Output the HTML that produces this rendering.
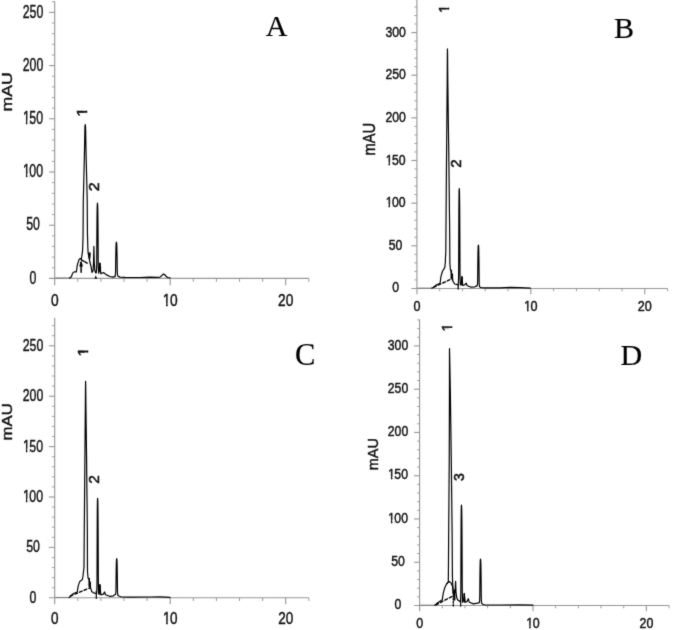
<!DOCTYPE html>
<html lang="en">
<head>
<meta charset="utf-8">
<title>Chromatograms A-D</title>
<style>
html,body{margin:0;padding:0;background:#fff;}
body{width:685px;height:630px;overflow:hidden;}
svg{display:block;}
</style>
</head>
<body>
<svg width="685" height="630" viewBox="0 0 685 630">
<rect width="685" height="630" fill="#fff"/>
<defs><filter id="soft" x="0" y="0" width="685" height="630" filterUnits="userSpaceOnUse" color-interpolation-filters="sRGB"><feConvolveMatrix order="3" kernelMatrix="1 4 1 4 30 4 1 4 1" edgeMode="duplicate" preserveAlpha="false"/></filter></defs>
<g filter="url(#soft)">
<g id="panelA">
<g>
<line x1="54.7" y1="1.3" x2="54.7" y2="285.2" stroke="#969696" stroke-width="1.12"/>
<line x1="49.1" y1="278.4" x2="308.8" y2="278.4" stroke="#969696" stroke-width="1.12"/>
<line x1="52.1" y1="267.76" x2="54.7" y2="267.76" stroke="#969696" stroke-width="0.95"/>
<line x1="52.1" y1="257.12" x2="54.7" y2="257.12" stroke="#969696" stroke-width="0.95"/>
<line x1="52.1" y1="246.48" x2="54.7" y2="246.48" stroke="#969696" stroke-width="0.95"/>
<line x1="52.1" y1="235.84" x2="54.7" y2="235.84" stroke="#969696" stroke-width="0.95"/>
<line x1="49.1" y1="225.2" x2="54.7" y2="225.2" stroke="#969696" stroke-width="1.12"/>
<line x1="52.1" y1="214.56" x2="54.7" y2="214.56" stroke="#969696" stroke-width="0.95"/>
<line x1="52.1" y1="203.92" x2="54.7" y2="203.92" stroke="#969696" stroke-width="0.95"/>
<line x1="52.1" y1="193.28" x2="54.7" y2="193.28" stroke="#969696" stroke-width="0.95"/>
<line x1="52.1" y1="182.64" x2="54.7" y2="182.64" stroke="#969696" stroke-width="0.95"/>
<line x1="49.1" y1="172" x2="54.7" y2="172" stroke="#969696" stroke-width="1.12"/>
<line x1="52.1" y1="161.36" x2="54.7" y2="161.36" stroke="#969696" stroke-width="0.95"/>
<line x1="52.1" y1="150.72" x2="54.7" y2="150.72" stroke="#969696" stroke-width="0.95"/>
<line x1="52.1" y1="140.08" x2="54.7" y2="140.08" stroke="#969696" stroke-width="0.95"/>
<line x1="52.1" y1="129.44" x2="54.7" y2="129.44" stroke="#969696" stroke-width="0.95"/>
<line x1="49.1" y1="118.8" x2="54.7" y2="118.8" stroke="#969696" stroke-width="1.12"/>
<line x1="52.1" y1="108.16" x2="54.7" y2="108.16" stroke="#969696" stroke-width="0.95"/>
<line x1="52.1" y1="97.52" x2="54.7" y2="97.52" stroke="#969696" stroke-width="0.95"/>
<line x1="52.1" y1="86.88" x2="54.7" y2="86.88" stroke="#969696" stroke-width="0.95"/>
<line x1="52.1" y1="76.24" x2="54.7" y2="76.24" stroke="#969696" stroke-width="0.95"/>
<line x1="49.1" y1="65.6" x2="54.7" y2="65.6" stroke="#969696" stroke-width="1.12"/>
<line x1="52.1" y1="54.96" x2="54.7" y2="54.96" stroke="#969696" stroke-width="0.95"/>
<line x1="52.1" y1="44.32" x2="54.7" y2="44.32" stroke="#969696" stroke-width="0.95"/>
<line x1="52.1" y1="33.68" x2="54.7" y2="33.68" stroke="#969696" stroke-width="0.95"/>
<line x1="52.1" y1="23.04" x2="54.7" y2="23.04" stroke="#969696" stroke-width="0.95"/>
<line x1="49.1" y1="12.4" x2="54.7" y2="12.4" stroke="#969696" stroke-width="1.12"/>
<line x1="52.1" y1="1.76" x2="54.7" y2="1.76" stroke="#969696" stroke-width="0.95"/>
<line x1="77.8" y1="278.4" x2="77.8" y2="281.8" stroke="#969696" stroke-width="0.95"/>
<line x1="100.9" y1="278.4" x2="100.9" y2="281.8" stroke="#969696" stroke-width="0.95"/>
<line x1="124" y1="278.4" x2="124" y2="281.8" stroke="#969696" stroke-width="0.95"/>
<line x1="147.1" y1="278.4" x2="147.1" y2="281.8" stroke="#969696" stroke-width="0.95"/>
<line x1="170.2" y1="278.4" x2="170.2" y2="285.2" stroke="#969696" stroke-width="1.12"/>
<line x1="193.3" y1="278.4" x2="193.3" y2="281.8" stroke="#969696" stroke-width="0.95"/>
<line x1="216.4" y1="278.4" x2="216.4" y2="281.8" stroke="#969696" stroke-width="0.95"/>
<line x1="239.5" y1="278.4" x2="239.5" y2="281.8" stroke="#969696" stroke-width="0.95"/>
<line x1="262.6" y1="278.4" x2="262.6" y2="281.8" stroke="#969696" stroke-width="0.95"/>
<line x1="285.7" y1="278.4" x2="285.7" y2="285.2" stroke="#969696" stroke-width="1.12"/>
<line x1="308.8" y1="278.4" x2="308.8" y2="281.8" stroke="#969696" stroke-width="0.95"/>
</g>
<g>
<text transform="translate(33 283.5) scale(0.700 1.000)" font-family='"Liberation Sans", Arial, sans-serif' font-size="17.6" text-anchor="middle" fill="#111" font-weight="normal" stroke="#111" stroke-width="0.45">0</text>
<text transform="translate(33 230.3) scale(0.700 1.000)" font-family='"Liberation Sans", Arial, sans-serif' font-size="17.6" text-anchor="middle" fill="#111" font-weight="normal" stroke="#111" stroke-width="0.45">50</text>
<clipPath id="k1"><path clip-rule="evenodd" d="M-20.33 -17.6 h40.66 v24.64 h-40.66 z M-15.33 -3.11 H-10.13 V5.28 H-15.33 z M-8.13 -3.11 H-4.86 V5.28 H-8.13 z"/></clipPath>
<text transform="translate(33 177.1) scale(0.700 1.000)" font-family='"Liberation Sans", Arial, sans-serif' font-size="17.6" text-anchor="middle" fill="#111" font-weight="normal" stroke="#111" stroke-width="0.45" clip-path="url(#k1)" dx="0 -0.7">100</text>
<clipPath id="k2"><path clip-rule="evenodd" d="M-20.33 -17.6 h40.66 v24.64 h-40.66 z M-15.33 -3.11 H-10.13 V5.28 H-15.33 z M-8.13 -3.11 H-4.86 V5.28 H-8.13 z"/></clipPath>
<text transform="translate(33 123.9) scale(0.700 1.000)" font-family='"Liberation Sans", Arial, sans-serif' font-size="17.6" text-anchor="middle" fill="#111" font-weight="normal" stroke="#111" stroke-width="0.45" clip-path="url(#k2)" dx="0 -0.7">150</text>
<text transform="translate(33 70.7) scale(0.700 1.000)" font-family='"Liberation Sans", Arial, sans-serif' font-size="17.6" text-anchor="middle" fill="#111" font-weight="normal" stroke="#111" stroke-width="0.45">200</text>
<text transform="translate(33 17.5) scale(0.700 1.000)" font-family='"Liberation Sans", Arial, sans-serif' font-size="17.6" text-anchor="middle" fill="#111" font-weight="normal" stroke="#111" stroke-width="0.45">250</text>
</g>
<g>
<text transform="translate(54.7 306) scale(0.800 1.000)" font-family='"Liberation Sans", Arial, sans-serif' font-size="17.2" text-anchor="middle" fill="#111" font-weight="normal" stroke="#111" stroke-width="0.45">0</text>
<clipPath id="k3"><path clip-rule="evenodd" d="M-15.22 -17.2 h30.45 v24.08 h-30.45 z M-10.22 -3.08 H-5.12 V5.16 H-10.22 z M-3.16 -3.08 H0.03 V5.16 H-3.16 z"/></clipPath>
<text transform="translate(170.2 306) scale(0.800 1.000)" font-family='"Liberation Sans", Arial, sans-serif' font-size="17.2" text-anchor="middle" fill="#111" font-weight="normal" stroke="#111" stroke-width="0.45" clip-path="url(#k3)" dx="0 -0.69">10</text>
<text transform="translate(285.7 306) scale(0.800 1.000)" font-family='"Liberation Sans", Arial, sans-serif' font-size="17.2" text-anchor="middle" fill="#111" font-weight="normal" stroke="#111" stroke-width="0.45">20</text>
</g>
<text transform="translate(12.3 91.9) rotate(-90) scale(1.000 0.870)" font-family='"Liberation Sans", Arial, sans-serif' font-size="17.7" text-anchor="middle" fill="#111" font-weight="normal" stroke="#111" stroke-width="0.45">mAU</text>
<path d="M55.6 277.9 L70 277.9" fill="none" stroke="#555" stroke-width="0.6" stroke-linejoin="round" stroke-linecap="round"/>
<path d="M69.6 278 L70.4 277.6 L71.5 276.5 L72.6 273.1 L74.1 271.9 L76.4 271.9 L77.2 265.5 L79.1 259.4 L80.2 258.5 L81.2 259.3 L81.75 256.5 L82.08 254.3 L82.42 252.1 L82.59 249.9 L82.67 247.7 L82.74 245.5 L82.82 243.3 L82.89 241.1 L82.96 238.9 L83.04 236.7 L83.06 234.5 L83.08 232.3 L83.09 230.1 L83.11 227.9 L83.13 225.7 L83.14 223.5 L83.16 221.3 L83.17 219.1 L83.19 216.9 L83.2 214.7 L83.22 212.5 L83.23 210.3 L83.25 208.1 L83.27 205.9 L83.28 203.7 L83.3 201.5 L83.34 199.3 L83.39 197.1 L83.45 194.9 L83.5 192.7 L83.55 190.5 L83.61 188.3 L83.66 186.1 L83.71 183.9 L83.76 181.7 L83.82 179.5 L83.87 177.3 L83.93 175.1 L83.98 172.9 L84.04 170.7 L84.09 168.5 L84.15 166.3 L84.21 164.1 L84.26 161.9 L84.31 159.7 L84.36 157.5 L84.41 155.3 L84.45 153.1 L84.5 150.9 L84.54 148.7 L84.59 146.5 L84.64 144.3 L84.68 142.1 L84.71 139.9 L84.75 137.7 L84.78 135.5 L84.82 133.3 L84.85 131.1 L84.91 128.9 L84.97 126.7 L85.25 124.5 L85.25 124.5 L85.53 126.65 L85.59 128.8 L85.65 130.95 L85.68 133.1 L85.72 135.25 L85.75 137.4 L85.79 139.55 L85.82 141.7 L85.86 143.85 L85.91 146 L85.96 148.15 L86 150.3 L86.05 152.45 L86.09 154.6 L86.14 156.75 L86.19 158.9 L86.24 161.05 L86.29 163.2 L86.35 165.35 L86.41 167.5 L86.46 169.65 L86.52 171.8 L86.57 173.95 L86.63 176.1 L86.68 178.25 L86.74 180.4 L86.79 182.55 L86.84 184.7 L86.89 186.85 L86.95 189 L87 191.15 L87.05 193.3 L87.11 195.45 L87.16 197.6 L87.2 199.75 L87.22 201.9 L87.23 204.05 L87.25 206.2 L87.27 208.35 L87.28 210.5 L87.3 212.65 L87.31 214.8 L87.33 216.95 L87.34 219.1 L87.36 221.25 L87.37 223.4 L87.39 225.55 L87.41 227.7 L87.42 229.85 L87.44 232 L87.46 234.15 L87.52 236.3 L87.58 238.45 L87.64 240.6 L87.7 242.75 L87.76 244.9 L87.81 247.05 L87.91 249.2 L88.05 251.35 L88.2 253.5 L89 257.1 L89.8 261.5 L91 266.5 L92 272.3 L93 271 L93.55 262 L93.9 246.4 L94.25 262 L94.8 270.5 L95.8 273 L96.2 273 L96.4 271.25 L96.53 269.51 L96.61 267.76 L96.66 266.02 L96.7 264.27 L96.72 262.53 L96.74 260.79 L96.75 259.04 L96.76 257.3 L96.77 255.55 L96.78 253.81 L96.79 252.06 L96.8 250.31 L96.81 248.57 L96.82 246.82 L96.83 245.08 L96.84 243.34 L96.85 241.59 L96.86 239.84 L96.87 238.1 L96.88 236.35 L96.9 234.61 L96.91 232.87 L96.92 231.12 L96.93 229.38 L96.95 227.63 L96.96 225.88 L96.98 224.14 L96.99 222.39 L97.01 220.65 L97.02 218.9 L97.04 217.16 L97.06 215.41 L97.09 213.67 L97.11 211.92 L97.14 210.18 L97.17 208.44 L97.21 206.69 L97.27 204.94 L97.45 203.2 L97.45 203.2 L97.65 204.95 L97.71 206.7 L97.75 208.45 L97.78 210.2 L97.81 211.95 L97.84 213.7 L97.86 215.45 L97.88 217.2 L97.9 218.95 L97.92 220.7 L97.94 222.45 L97.96 224.2 L97.97 225.95 L97.99 227.7 L98 229.45 L98.01 231.2 L98.03 232.95 L98.04 234.7 L98.05 236.45 L98.06 238.2 L98.08 239.95 L98.09 241.7 L98.1 243.45 L98.11 245.2 L98.12 246.95 L98.13 248.7 L98.14 250.45 L98.15 252.2 L98.16 253.95 L98.17 255.7 L98.18 257.45 L98.19 259.2 L98.21 260.95 L98.23 262.7 L98.25 264.45 L98.29 266.2 L98.34 267.95 L98.42 269.7 L98.55 271.45 L98.75 273.2 L99.3 270 L100 263.2 L100.8 273.8 L102 273 L103.8 272.7 L106.1 274.6 L109.9 276.5 L113 277.1 L114.6 276.6 L115.05 276.6 L115.26 275.74 L115.38 274.88 L115.46 274.01 L115.52 273.15 L115.55 272.29 L115.58 271.43 L115.59 270.56 L115.61 269.7 L115.62 268.84 L115.63 267.98 L115.65 267.11 L115.66 266.25 L115.67 265.39 L115.68 264.53 L115.69 263.66 L115.7 262.8 L115.71 261.94 L115.72 261.07 L115.73 260.21 L115.75 259.35 L115.76 258.49 L115.77 257.62 L115.79 256.76 L115.8 255.9 L115.81 255.04 L115.83 254.18 L115.85 253.31 L115.86 252.45 L115.88 251.59 L115.9 250.72 L115.92 249.86 L115.94 249 L115.96 248.14 L115.99 247.28 L116.01 246.41 L116.05 245.55 L116.08 244.69 L116.13 243.82 L116.19 242.96 L116.4 242.1 L116.4 242.1 L116.62 242.95 L116.69 243.79 L116.74 244.64 L116.78 245.49 L116.81 246.34 L116.84 247.19 L116.86 248.03 L116.89 248.88 L116.91 249.73 L116.93 250.57 L116.95 251.42 L116.97 252.27 L116.99 253.12 L117 253.97 L117.02 254.81 L117.04 255.66 L117.05 256.51 L117.06 257.36 L117.08 258.2 L117.09 259.05 L117.1 259.9 L117.12 260.75 L117.13 261.59 L117.14 262.44 L117.15 263.29 L117.16 264.13 L117.18 264.98 L117.19 265.83 L117.2 266.68 L117.21 267.52 L117.22 268.37 L117.24 269.22 L117.25 270.07 L117.27 270.92 L117.3 271.76 L117.33 272.61 L117.39 273.46 L117.47 274.31 L117.59 275.15 L117.8 276 L120 277.1 L125 277.4 L140 277.5 L150 277.2 L157 277.4 L160 277.1 L161.6 275.8 L162.8 274.4 L163.6 273.9 L164.5 274.5 L165.8 276 L167.5 277.5 L170 277.9" fill="none" stroke="#000" stroke-width="1.2" stroke-linejoin="round" stroke-linecap="round"/>
<path d="M81.4 259.8 L87.8 263.6" fill="none" stroke="#000" stroke-width="1.5" stroke-linejoin="round" stroke-linecap="round" stroke-dasharray="2.6 1.5"/>
<path d="M81.1 262.5 L81.1 272.3" fill="none" stroke="#000" stroke-width="1.5" stroke-linejoin="round" stroke-linecap="round"/>
<polygon points="81.1,260.2 79.2,266.6 83,266.6" fill="#000"/>
<polygon points="88.2,252.6 90.8,252.6 90.4,258 89.5,262 88.6,258" fill="#000"/>
<path d="M99.7 263.5 L99.7 270" fill="none" stroke="#000" stroke-width="1.6" stroke-linejoin="round" stroke-linecap="round"/>
<polygon points="99.7,272.4 98,267 101.4,267" fill="#000"/>
<polygon points="95.8,275.2 94.5,278.8 97.1,278.8" fill="#000"/>
<clipPath id="k4"><path clip-rule="evenodd" d="M-6 -14.5 h20.06 v20.3 h-20.06 z M-1 -2.88 H3.43 V4.35 H-1 z M5.15 -2.88 H8.41 V4.35 H5.15 z"/></clipPath>
<text transform="translate(86.8 116.7) rotate(-90) scale(1.150 1.000)" font-family='"Liberation Sans", Arial, sans-serif' font-size="14.5" text-anchor="start" fill="#111" font-weight="normal" stroke="#111" stroke-width="0.55" clip-path="url(#k4)">1</text>
<text transform="translate(98.9 191.2) rotate(-90) scale(1.100 1.000)" font-family='"Liberation Sans", Arial, sans-serif' font-size="14.5" text-anchor="start" fill="#111" font-weight="normal" stroke="#111" stroke-width="0.55">2</text>
<text transform="translate(276.6 35.9)" font-family='"Liberation Serif", "Times New Roman", serif' font-size="30" text-anchor="middle" fill="#000" font-weight="normal" stroke="#000" stroke-width="0.2">A</text>
</g>
<g id="panelB">
<g>
<line x1="416.9" y1="0" x2="416.9" y2="294.25" stroke="#969696" stroke-width="1.12"/>
<line x1="411.3" y1="288.45" x2="667.59" y2="288.45" stroke="#969696" stroke-width="1.12"/>
<line x1="414.5" y1="279.92" x2="416.9" y2="279.92" stroke="#969696" stroke-width="0.95"/>
<line x1="414.5" y1="271.39" x2="416.9" y2="271.39" stroke="#969696" stroke-width="0.95"/>
<line x1="414.5" y1="262.86" x2="416.9" y2="262.86" stroke="#969696" stroke-width="0.95"/>
<line x1="414.5" y1="254.33" x2="416.9" y2="254.33" stroke="#969696" stroke-width="0.95"/>
<line x1="411.3" y1="245.8" x2="416.9" y2="245.8" stroke="#969696" stroke-width="1.12"/>
<line x1="414.5" y1="237.27" x2="416.9" y2="237.27" stroke="#969696" stroke-width="0.95"/>
<line x1="414.5" y1="228.74" x2="416.9" y2="228.74" stroke="#969696" stroke-width="0.95"/>
<line x1="414.5" y1="220.21" x2="416.9" y2="220.21" stroke="#969696" stroke-width="0.95"/>
<line x1="414.5" y1="211.68" x2="416.9" y2="211.68" stroke="#969696" stroke-width="0.95"/>
<line x1="411.3" y1="203.15" x2="416.9" y2="203.15" stroke="#969696" stroke-width="1.12"/>
<line x1="414.5" y1="194.62" x2="416.9" y2="194.62" stroke="#969696" stroke-width="0.95"/>
<line x1="414.5" y1="186.09" x2="416.9" y2="186.09" stroke="#969696" stroke-width="0.95"/>
<line x1="414.5" y1="177.56" x2="416.9" y2="177.56" stroke="#969696" stroke-width="0.95"/>
<line x1="414.5" y1="169.03" x2="416.9" y2="169.03" stroke="#969696" stroke-width="0.95"/>
<line x1="411.3" y1="160.5" x2="416.9" y2="160.5" stroke="#969696" stroke-width="1.12"/>
<line x1="414.5" y1="151.97" x2="416.9" y2="151.97" stroke="#969696" stroke-width="0.95"/>
<line x1="414.5" y1="143.44" x2="416.9" y2="143.44" stroke="#969696" stroke-width="0.95"/>
<line x1="414.5" y1="134.91" x2="416.9" y2="134.91" stroke="#969696" stroke-width="0.95"/>
<line x1="414.5" y1="126.38" x2="416.9" y2="126.38" stroke="#969696" stroke-width="0.95"/>
<line x1="411.3" y1="117.85" x2="416.9" y2="117.85" stroke="#969696" stroke-width="1.12"/>
<line x1="414.5" y1="109.32" x2="416.9" y2="109.32" stroke="#969696" stroke-width="0.95"/>
<line x1="414.5" y1="100.79" x2="416.9" y2="100.79" stroke="#969696" stroke-width="0.95"/>
<line x1="414.5" y1="92.26" x2="416.9" y2="92.26" stroke="#969696" stroke-width="0.95"/>
<line x1="414.5" y1="83.73" x2="416.9" y2="83.73" stroke="#969696" stroke-width="0.95"/>
<line x1="411.3" y1="75.2" x2="416.9" y2="75.2" stroke="#969696" stroke-width="1.12"/>
<line x1="414.5" y1="66.67" x2="416.9" y2="66.67" stroke="#969696" stroke-width="0.95"/>
<line x1="414.5" y1="58.14" x2="416.9" y2="58.14" stroke="#969696" stroke-width="0.95"/>
<line x1="414.5" y1="49.61" x2="416.9" y2="49.61" stroke="#969696" stroke-width="0.95"/>
<line x1="414.5" y1="41.08" x2="416.9" y2="41.08" stroke="#969696" stroke-width="0.95"/>
<line x1="411.3" y1="32.55" x2="416.9" y2="32.55" stroke="#969696" stroke-width="1.12"/>
<line x1="414.5" y1="24.02" x2="416.9" y2="24.02" stroke="#969696" stroke-width="0.95"/>
<line x1="414.5" y1="15.49" x2="416.9" y2="15.49" stroke="#969696" stroke-width="0.95"/>
<line x1="414.5" y1="6.96" x2="416.9" y2="6.96" stroke="#969696" stroke-width="0.95"/>
<line x1="439.69" y1="288.45" x2="439.69" y2="291.25" stroke="#969696" stroke-width="0.95"/>
<line x1="462.48" y1="288.45" x2="462.48" y2="291.25" stroke="#969696" stroke-width="0.95"/>
<line x1="485.27" y1="288.45" x2="485.27" y2="291.25" stroke="#969696" stroke-width="0.95"/>
<line x1="508.06" y1="288.45" x2="508.06" y2="291.25" stroke="#969696" stroke-width="0.95"/>
<line x1="530.85" y1="288.45" x2="530.85" y2="294.25" stroke="#969696" stroke-width="1.12"/>
<line x1="553.64" y1="288.45" x2="553.64" y2="291.25" stroke="#969696" stroke-width="0.95"/>
<line x1="576.43" y1="288.45" x2="576.43" y2="291.25" stroke="#969696" stroke-width="0.95"/>
<line x1="599.22" y1="288.45" x2="599.22" y2="291.25" stroke="#969696" stroke-width="0.95"/>
<line x1="622.01" y1="288.45" x2="622.01" y2="291.25" stroke="#969696" stroke-width="0.95"/>
<line x1="644.8" y1="288.45" x2="644.8" y2="294.25" stroke="#969696" stroke-width="1.12"/>
<line x1="667.59" y1="288.45" x2="667.59" y2="291.25" stroke="#969696" stroke-width="0.95"/>
</g>
<g>
<text transform="translate(395.6 292.45) scale(0.875 1.000)" font-family='"Liberation Sans", Arial, sans-serif' font-size="14" text-anchor="middle" fill="#111" font-weight="normal" stroke="#111" stroke-width="0.45">0</text>
<text transform="translate(395.6 249.8) scale(0.875 1.000)" font-family='"Liberation Sans", Arial, sans-serif' font-size="14" text-anchor="middle" fill="#111" font-weight="normal" stroke="#111" stroke-width="0.45">50</text>
<clipPath id="k5"><path clip-rule="evenodd" d="M-17.4 -14 h34.8 v19.6 h-34.8 z M-12.4 -2.85 H-8.1 V4.2 H-12.4 z M-6.42 -2.85 H-3.87 V4.2 H-6.42 z"/></clipPath>
<text transform="translate(395.6 207.15) scale(0.875 1.000)" font-family='"Liberation Sans", Arial, sans-serif' font-size="14" text-anchor="middle" fill="#111" font-weight="normal" stroke="#111" stroke-width="0.45" clip-path="url(#k5)" dx="0 -0.56">100</text>
<clipPath id="k6"><path clip-rule="evenodd" d="M-17.4 -14 h34.8 v19.6 h-34.8 z M-12.4 -2.85 H-8.1 V4.2 H-12.4 z M-6.42 -2.85 H-3.87 V4.2 H-6.42 z"/></clipPath>
<text transform="translate(395.6 164.5) scale(0.875 1.000)" font-family='"Liberation Sans", Arial, sans-serif' font-size="14" text-anchor="middle" fill="#111" font-weight="normal" stroke="#111" stroke-width="0.45" clip-path="url(#k6)" dx="0 -0.56">150</text>
<text transform="translate(395.6 121.85) scale(0.875 1.000)" font-family='"Liberation Sans", Arial, sans-serif' font-size="14" text-anchor="middle" fill="#111" font-weight="normal" stroke="#111" stroke-width="0.45">200</text>
<text transform="translate(395.6 79.2) scale(0.875 1.000)" font-family='"Liberation Sans", Arial, sans-serif' font-size="14" text-anchor="middle" fill="#111" font-weight="normal" stroke="#111" stroke-width="0.45">250</text>
<text transform="translate(395.6 36.55) scale(0.875 1.000)" font-family='"Liberation Sans", Arial, sans-serif' font-size="14" text-anchor="middle" fill="#111" font-weight="normal" stroke="#111" stroke-width="0.45">300</text>
</g>
<g>
<text transform="translate(416.9 311) scale(0.900 1.000)" font-family='"Liberation Sans", Arial, sans-serif' font-size="14" text-anchor="middle" fill="#111" font-weight="normal" stroke="#111" stroke-width="0.45">0</text>
<clipPath id="k7"><path clip-rule="evenodd" d="M-13.51 -14 h27.01 v19.6 h-27.01 z M-8.51 -2.85 H-4.21 V4.2 H-8.51 z M-2.53 -2.85 H0.03 V4.2 H-2.53 z"/></clipPath>
<text transform="translate(530.85 311) scale(0.900 1.000)" font-family='"Liberation Sans", Arial, sans-serif' font-size="14" text-anchor="middle" fill="#111" font-weight="normal" stroke="#111" stroke-width="0.45" clip-path="url(#k7)" dx="0 -0.56">10</text>
<text transform="translate(644.8 311) scale(0.900 1.000)" font-family='"Liberation Sans", Arial, sans-serif' font-size="14" text-anchor="middle" fill="#111" font-weight="normal" stroke="#111" stroke-width="0.45">20</text>
</g>
<text transform="translate(375 139.2) rotate(-90) scale(1.000 1.140)" font-family='"Liberation Sans", Arial, sans-serif' font-size="14.7" text-anchor="middle" fill="#111" font-weight="normal" stroke="#111" stroke-width="0.45">mAU</text>
<path d="M417.8 288 L432.4 288" fill="none" stroke="#555" stroke-width="0.6" stroke-linejoin="round" stroke-linecap="round"/>
<path d="M431.8 288.1 L432.7 287.8 L433.7 287.2 L436.6 284.7 L440.1 283.2 L440.9 276.7 L442.4 271.5 L444.8 267.4 L445.4 262 L445.4 259 L445.62 255.5 L445.81 252 L445.83 248.5 L445.86 244.99 L445.88 241.49 L445.91 237.99 L445.93 234.49 L445.96 230.99 L445.98 227.49 L446.01 223.98 L446.04 220.48 L446.07 216.98 L446.09 213.48 L446.12 209.98 L446.15 206.47 L446.17 202.97 L446.2 199.47 L446.23 195.97 L446.25 192.47 L446.28 188.97 L446.31 185.47 L446.34 181.96 L446.36 178.46 L446.39 174.96 L446.42 171.46 L446.44 167.96 L446.47 164.45 L446.5 160.95 L446.53 157.45 L446.56 153.95 L446.59 150.45 L446.62 146.95 L446.65 143.44 L446.68 139.94 L446.71 136.44 L446.75 132.94 L446.78 129.44 L446.81 125.94 L446.84 122.44 L446.87 118.93 L446.9 115.43 L446.93 111.93 L446.97 108.43 L447 104.93 L447.03 101.43 L447.06 97.92 L447.09 94.42 L447.12 90.92 L447.16 87.42 L447.19 83.92 L447.22 80.42 L447.24 76.91 L447.26 73.41 L447.28 69.91 L447.29 66.41 L447.31 62.91 L447.33 59.41 L447.35 55.9 L447.39 52.4 L447.45 48.9 L447.45 48.9 L447.52 52.58 L447.58 56.26 L447.61 59.94 L447.64 63.62 L447.67 67.3 L447.7 70.98 L447.73 74.66 L447.76 78.34 L447.8 82.02 L447.85 85.7 L447.9 89.38 L447.95 93.06 L448 96.74 L448.05 100.42 L448.1 104.1 L448.14 107.78 L448.19 111.46 L448.24 115.14 L448.29 118.82 L448.34 122.5 L448.39 126.18 L448.44 129.86 L448.49 133.54 L448.54 137.22 L448.59 140.9 L448.64 144.58 L448.69 148.26 L448.74 151.94 L448.79 155.62 L448.84 159.3 L448.89 162.98 L448.93 166.66 L448.97 170.34 L449.01 174.02 L449.05 177.7 L449.1 181.38 L449.14 185.06 L449.18 188.74 L449.22 192.42 L449.26 196.1 L449.31 199.78 L449.35 203.46 L449.39 207.14 L449.43 210.82 L449.47 214.5 L449.52 218.18 L449.56 221.86 L449.6 225.54 L449.64 229.22 L449.68 232.9 L449.71 236.58 L449.73 240.26 L449.75 243.94 L449.77 247.62 L449.79 251.3 L449.81 254.98 L449.83 258.66 L449.85 262.34 L450.09 266.02 L450.4 269.7 L451.2 270.9 L452.1 276.7 L453 281.4 L454.7 284 L457.6 284.7 L458.25 285 L458.41 282.59 L458.51 280.18 L458.58 277.77 L458.62 275.36 L458.65 272.95 L458.67 270.54 L458.68 268.13 L458.69 265.72 L458.7 263.31 L458.71 260.9 L458.72 258.49 L458.73 256.08 L458.73 253.67 L458.74 251.26 L458.75 248.85 L458.76 246.44 L458.76 244.03 L458.77 241.62 L458.78 239.21 L458.79 236.8 L458.8 234.39 L458.81 231.98 L458.82 229.57 L458.83 227.16 L458.84 224.75 L458.85 222.34 L458.86 219.93 L458.87 217.52 L458.88 215.11 L458.9 212.7 L458.91 210.29 L458.92 207.88 L458.94 205.47 L458.96 203.06 L458.98 200.65 L459 198.24 L459.03 195.83 L459.06 193.42 L459.1 191.01 L459.25 188.6 L459.25 188.6 L459.43 191.01 L459.49 193.42 L459.53 195.83 L459.56 198.24 L459.59 200.65 L459.61 203.06 L459.64 205.47 L459.66 207.88 L459.68 210.29 L459.69 212.7 L459.71 215.11 L459.72 217.52 L459.74 219.93 L459.75 222.34 L459.77 224.75 L459.78 227.16 L459.79 229.57 L459.8 231.98 L459.82 234.39 L459.83 236.8 L459.84 239.21 L459.85 241.62 L459.86 244.03 L459.87 246.44 L459.88 248.85 L459.89 251.26 L459.9 253.67 L459.91 256.08 L459.92 258.49 L459.93 260.9 L459.94 263.31 L459.95 265.72 L459.96 268.13 L459.97 270.54 L460 272.95 L460.02 275.36 L460.07 277.77 L460.13 280.18 L460.24 282.59 L460.4 285 L461.3 283 L462 276.7 L462.7 285.5 L464.6 284.9 L466.2 283.2 L467 285.5 L471.1 287.2 L474.6 287 L476.3 286.1 L477.25 285.6 L477.41 284.59 L477.52 283.57 L477.58 282.56 L477.63 281.54 L477.65 280.53 L477.68 279.51 L477.69 278.5 L477.7 277.48 L477.71 276.47 L477.72 275.45 L477.73 274.44 L477.74 273.42 L477.75 272.41 L477.76 271.39 L477.77 270.38 L477.78 269.36 L477.79 268.35 L477.8 267.33 L477.81 266.31 L477.82 265.3 L477.83 264.29 L477.85 263.27 L477.86 262.25 L477.87 261.24 L477.88 260.23 L477.9 259.21 L477.91 258.19 L477.93 257.18 L477.94 256.17 L477.96 255.15 L477.97 254.13 L477.99 253.12 L478.01 252.11 L478.04 251.09 L478.06 250.07 L478.09 249.06 L478.12 248.05 L478.16 247.03 L478.22 246.01 L478.4 245 L478.4 245 L478.6 246.05 L478.66 247.1 L478.7 248.15 L478.73 249.2 L478.76 250.25 L478.79 251.3 L478.81 252.35 L478.83 253.4 L478.85 254.45 L478.87 255.5 L478.89 256.55 L478.91 257.6 L478.92 258.65 L478.94 259.7 L478.95 260.75 L478.96 261.8 L478.98 262.85 L478.99 263.9 L479 264.95 L479.01 266 L479.03 267.05 L479.04 268.1 L479.05 269.15 L479.06 270.2 L479.07 271.25 L479.08 272.3 L479.09 273.35 L479.1 274.4 L479.11 275.45 L479.12 276.5 L479.13 277.55 L479.14 278.6 L479.16 279.65 L479.17 280.7 L479.19 281.75 L479.22 282.8 L479.27 283.85 L479.33 284.9 L479.43 285.95 L479.6 287 L481.5 287.6 L485.1 287.9 L500 287.9 L510 287.4 L520 287.7 L530.4 288.1" fill="none" stroke="#000" stroke-width="1.2" stroke-linejoin="round" stroke-linecap="round"/>
<path d="M433.7 287.2 L452.4 278.5" fill="none" stroke="#000" stroke-width="1.45" stroke-linejoin="round" stroke-linecap="round" stroke-dasharray="2.8 2.2"/>
<path d="M451.3 270.5 L451.3 278.5" fill="none" stroke="#000" stroke-width="1.5" stroke-linejoin="round" stroke-linecap="round"/>
<path d="M452.5 274 L452.5 280" fill="none" stroke="#000" stroke-width="1.2" stroke-linejoin="round" stroke-linecap="round"/>
<path d="M462 277 L462 285" fill="none" stroke="#000" stroke-width="1.5" stroke-linejoin="round" stroke-linecap="round"/>
<path d="M458.2 284.5 L458.2 289" fill="none" stroke="#000" stroke-width="1.3" stroke-linejoin="round" stroke-linecap="round"/>
<clipPath id="k8"><path clip-rule="evenodd" d="M-6 -14 h19.79 v19.6 h-19.79 z M-1 -2.85 H3.3 V4.2 H-1 z M4.98 -2.85 H8.12 V4.2 H4.98 z"/></clipPath>
<text transform="translate(449 12.8) rotate(-90)" font-family='"Liberation Sans", Arial, sans-serif' font-size="14" text-anchor="start" fill="#111" font-weight="normal" stroke="#111" stroke-width="0.55" clip-path="url(#k8)">1</text>
<text transform="translate(461.2 167.7) rotate(-90) scale(1.070 1.000)" font-family='"Liberation Sans", Arial, sans-serif' font-size="14" text-anchor="start" fill="#111" font-weight="normal" stroke="#111" stroke-width="0.55">2</text>
<text transform="translate(624 38)" font-family='"Liberation Serif", "Times New Roman", serif' font-size="30" text-anchor="middle" fill="#000" font-weight="normal" stroke="#000" stroke-width="0.2">B</text>
</g>
<g id="panelC">
<g>
<line x1="54.7" y1="317.8" x2="54.7" y2="604.2" stroke="#969696" stroke-width="1.12"/>
<line x1="48.9" y1="597.8" x2="308.8" y2="597.8" stroke="#969696" stroke-width="1.12"/>
<line x1="52.1" y1="587.72" x2="54.7" y2="587.72" stroke="#969696" stroke-width="0.95"/>
<line x1="52.1" y1="577.64" x2="54.7" y2="577.64" stroke="#969696" stroke-width="0.95"/>
<line x1="52.1" y1="567.56" x2="54.7" y2="567.56" stroke="#969696" stroke-width="0.95"/>
<line x1="52.1" y1="557.48" x2="54.7" y2="557.48" stroke="#969696" stroke-width="0.95"/>
<line x1="48.9" y1="547.4" x2="54.7" y2="547.4" stroke="#969696" stroke-width="1.12"/>
<line x1="52.1" y1="537.32" x2="54.7" y2="537.32" stroke="#969696" stroke-width="0.95"/>
<line x1="52.1" y1="527.24" x2="54.7" y2="527.24" stroke="#969696" stroke-width="0.95"/>
<line x1="52.1" y1="517.16" x2="54.7" y2="517.16" stroke="#969696" stroke-width="0.95"/>
<line x1="52.1" y1="507.08" x2="54.7" y2="507.08" stroke="#969696" stroke-width="0.95"/>
<line x1="48.9" y1="497" x2="54.7" y2="497" stroke="#969696" stroke-width="1.12"/>
<line x1="52.1" y1="486.92" x2="54.7" y2="486.92" stroke="#969696" stroke-width="0.95"/>
<line x1="52.1" y1="476.84" x2="54.7" y2="476.84" stroke="#969696" stroke-width="0.95"/>
<line x1="52.1" y1="466.76" x2="54.7" y2="466.76" stroke="#969696" stroke-width="0.95"/>
<line x1="52.1" y1="456.68" x2="54.7" y2="456.68" stroke="#969696" stroke-width="0.95"/>
<line x1="48.9" y1="446.6" x2="54.7" y2="446.6" stroke="#969696" stroke-width="1.12"/>
<line x1="52.1" y1="436.52" x2="54.7" y2="436.52" stroke="#969696" stroke-width="0.95"/>
<line x1="52.1" y1="426.44" x2="54.7" y2="426.44" stroke="#969696" stroke-width="0.95"/>
<line x1="52.1" y1="416.36" x2="54.7" y2="416.36" stroke="#969696" stroke-width="0.95"/>
<line x1="52.1" y1="406.28" x2="54.7" y2="406.28" stroke="#969696" stroke-width="0.95"/>
<line x1="48.9" y1="396.2" x2="54.7" y2="396.2" stroke="#969696" stroke-width="1.12"/>
<line x1="52.1" y1="386.12" x2="54.7" y2="386.12" stroke="#969696" stroke-width="0.95"/>
<line x1="52.1" y1="376.04" x2="54.7" y2="376.04" stroke="#969696" stroke-width="0.95"/>
<line x1="52.1" y1="365.96" x2="54.7" y2="365.96" stroke="#969696" stroke-width="0.95"/>
<line x1="52.1" y1="355.88" x2="54.7" y2="355.88" stroke="#969696" stroke-width="0.95"/>
<line x1="48.9" y1="345.8" x2="54.7" y2="345.8" stroke="#969696" stroke-width="1.12"/>
<line x1="52.1" y1="335.72" x2="54.7" y2="335.72" stroke="#969696" stroke-width="0.95"/>
<line x1="52.1" y1="325.64" x2="54.7" y2="325.64" stroke="#969696" stroke-width="0.95"/>
<line x1="77.8" y1="597.8" x2="77.8" y2="601" stroke="#969696" stroke-width="0.95"/>
<line x1="100.9" y1="597.8" x2="100.9" y2="601" stroke="#969696" stroke-width="0.95"/>
<line x1="124" y1="597.8" x2="124" y2="601" stroke="#969696" stroke-width="0.95"/>
<line x1="147.1" y1="597.8" x2="147.1" y2="601" stroke="#969696" stroke-width="0.95"/>
<line x1="170.2" y1="597.8" x2="170.2" y2="604.2" stroke="#969696" stroke-width="1.12"/>
<line x1="193.3" y1="597.8" x2="193.3" y2="601" stroke="#969696" stroke-width="0.95"/>
<line x1="216.4" y1="597.8" x2="216.4" y2="601" stroke="#969696" stroke-width="0.95"/>
<line x1="239.5" y1="597.8" x2="239.5" y2="601" stroke="#969696" stroke-width="0.95"/>
<line x1="262.6" y1="597.8" x2="262.6" y2="601" stroke="#969696" stroke-width="0.95"/>
<line x1="285.7" y1="597.8" x2="285.7" y2="604.2" stroke="#969696" stroke-width="1.12"/>
<line x1="308.8" y1="597.8" x2="308.8" y2="601" stroke="#969696" stroke-width="0.95"/>
</g>
<g>
<text transform="translate(33 602.7) scale(0.730 1.000)" font-family='"Liberation Sans", Arial, sans-serif' font-size="16.9" text-anchor="middle" fill="#111" font-weight="normal" stroke="#111" stroke-width="0.45">0</text>
<text transform="translate(33 552.3) scale(0.730 1.000)" font-family='"Liberation Sans", Arial, sans-serif' font-size="16.9" text-anchor="middle" fill="#111" font-weight="normal" stroke="#111" stroke-width="0.45">50</text>
<clipPath id="k9"><path clip-rule="evenodd" d="M-19.76 -16.9 h39.52 v23.66 h-39.52 z M-14.76 -3.06 H-9.73 V5.07 H-14.76 z M-7.8 -3.06 H-4.67 V5.07 H-7.8 z"/></clipPath>
<text transform="translate(33 501.9) scale(0.730 1.000)" font-family='"Liberation Sans", Arial, sans-serif' font-size="16.9" text-anchor="middle" fill="#111" font-weight="normal" stroke="#111" stroke-width="0.45" clip-path="url(#k9)" dx="0 -0.68">100</text>
<clipPath id="k10"><path clip-rule="evenodd" d="M-19.76 -16.9 h39.52 v23.66 h-39.52 z M-14.76 -3.06 H-9.73 V5.07 H-14.76 z M-7.8 -3.06 H-4.67 V5.07 H-7.8 z"/></clipPath>
<text transform="translate(33 451.5) scale(0.730 1.000)" font-family='"Liberation Sans", Arial, sans-serif' font-size="16.9" text-anchor="middle" fill="#111" font-weight="normal" stroke="#111" stroke-width="0.45" clip-path="url(#k10)" dx="0 -0.68">150</text>
<text transform="translate(33 401.1) scale(0.730 1.000)" font-family='"Liberation Sans", Arial, sans-serif' font-size="16.9" text-anchor="middle" fill="#111" font-weight="normal" stroke="#111" stroke-width="0.45">200</text>
<text transform="translate(33 350.7) scale(0.730 1.000)" font-family='"Liberation Sans", Arial, sans-serif' font-size="16.9" text-anchor="middle" fill="#111" font-weight="normal" stroke="#111" stroke-width="0.45">250</text>
</g>
<g>
<text transform="translate(54.7 624.4) scale(0.850 1.000)" font-family='"Liberation Sans", Arial, sans-serif' font-size="15.9" text-anchor="middle" fill="#111" font-weight="normal" stroke="#111" stroke-width="0.45">0</text>
<clipPath id="k11"><path clip-rule="evenodd" d="M-14.53 -15.9 h29.05 v22.26 h-29.05 z M-9.53 -2.99 H-4.75 V4.77 H-9.53 z M-2.9 -2.99 H0.03 V4.77 H-2.9 z"/></clipPath>
<text transform="translate(170.2 624.4) scale(0.850 1.000)" font-family='"Liberation Sans", Arial, sans-serif' font-size="15.9" text-anchor="middle" fill="#111" font-weight="normal" stroke="#111" stroke-width="0.45" clip-path="url(#k11)" dx="0 -0.64">10</text>
<text transform="translate(285.7 624.4) scale(0.850 1.000)" font-family='"Liberation Sans", Arial, sans-serif' font-size="15.9" text-anchor="middle" fill="#111" font-weight="normal" stroke="#111" stroke-width="0.45">20</text>
</g>
<text transform="translate(12.4 421.8) rotate(-90) scale(1.000 0.860)" font-family='"Liberation Sans", Arial, sans-serif' font-size="16.8" text-anchor="middle" fill="#111" font-weight="normal" stroke="#111" stroke-width="0.45">mAU</text>
<path d="M55.6 597.4 L69.4 597.4" fill="none" stroke="#555" stroke-width="0.6" stroke-linejoin="round" stroke-linecap="round"/>
<path d="M69 597.5 L69.8 597.1 L70.5 596.3 L73.5 593.5 L77.3 592 L78.2 585.9 L79.8 581.4 L82.4 579.5 L83 576 L83.3 573.2 L83.69 570 L84 566.81 L84.03 563.61 L84.05 560.41 L84.08 557.22 L84.1 554.02 L84.12 550.82 L84.15 547.63 L84.17 544.43 L84.2 541.23 L84.22 538.04 L84.24 534.84 L84.27 531.64 L84.29 528.45 L84.32 525.25 L84.34 522.05 L84.37 518.86 L84.4 515.66 L84.43 512.46 L84.46 509.27 L84.48 506.07 L84.51 502.87 L84.54 499.68 L84.57 496.48 L84.59 493.28 L84.62 490.09 L84.65 486.89 L84.68 483.69 L84.71 480.5 L84.73 477.3 L84.76 474.1 L84.79 470.91 L84.82 467.71 L84.84 464.51 L84.87 461.32 L84.9 458.12 L84.93 454.92 L84.96 451.73 L84.98 448.53 L85.01 445.33 L85.04 442.14 L85.07 438.94 L85.09 435.74 L85.12 432.55 L85.15 429.35 L85.18 426.15 L85.21 422.96 L85.23 419.76 L85.26 416.56 L85.29 413.37 L85.32 410.17 L85.34 406.97 L85.37 403.78 L85.4 400.58 L85.42 397.38 L85.45 394.19 L85.47 390.99 L85.5 387.79 L85.54 384.6 L85.6 381.4 L85.6 381.4 L85.66 384.68 L85.71 387.96 L85.74 391.25 L85.78 394.53 L85.81 397.81 L85.85 401.09 L85.89 404.37 L85.93 407.65 L85.97 410.93 L86.02 414.22 L86.06 417.5 L86.1 420.78 L86.14 424.06 L86.18 427.34 L86.22 430.62 L86.27 433.91 L86.31 437.19 L86.35 440.47 L86.39 443.75 L86.43 447.03 L86.47 450.31 L86.52 453.6 L86.56 456.88 L86.6 460.16 L86.63 463.44 L86.67 466.72 L86.7 470 L86.74 473.29 L86.77 476.57 L86.81 479.85 L86.84 483.13 L86.88 486.41 L86.91 489.69 L86.95 492.98 L86.98 496.26 L87.02 499.54 L87.05 502.82 L87.09 506.1 L87.12 509.38 L87.16 512.67 L87.19 515.95 L87.22 519.23 L87.26 522.51 L87.29 525.79 L87.33 529.07 L87.35 532.36 L87.37 535.64 L87.38 538.92 L87.39 542.2 L87.4 545.48 L87.41 548.76 L87.43 552.05 L87.44 555.33 L87.45 558.61 L87.46 561.89 L87.47 565.17 L87.49 568.45 L87.5 571.74 L87.77 575.02 L88.1 578.3 L89.1 578.9 L90.4 587.1 L91.7 591.6 L93.8 592.9 L96 593.5 L96.6 593.6 L96.76 591.22 L96.86 588.84 L96.93 586.45 L96.97 584.07 L97 581.69 L97.02 579.31 L97.03 576.92 L97.04 574.54 L97.05 572.16 L97.06 569.77 L97.07 567.39 L97.08 565.01 L97.08 562.63 L97.09 560.25 L97.1 557.86 L97.11 555.48 L97.11 553.1 L97.12 550.72 L97.13 548.33 L97.14 545.95 L97.15 543.57 L97.16 541.19 L97.17 538.8 L97.18 536.42 L97.19 534.04 L97.2 531.65 L97.21 529.27 L97.22 526.89 L97.23 524.51 L97.25 522.12 L97.26 519.74 L97.27 517.36 L97.29 514.98 L97.31 512.6 L97.33 510.21 L97.35 507.83 L97.38 505.45 L97.41 503.06 L97.45 500.68 L97.6 498.3 L97.6 498.3 L97.78 500.69 L97.84 503.09 L97.88 505.49 L97.91 507.88 L97.94 510.27 L97.96 512.67 L97.99 515.07 L98.01 517.46 L98.03 519.86 L98.04 522.25 L98.06 524.64 L98.07 527.04 L98.09 529.44 L98.1 531.83 L98.12 534.23 L98.13 536.62 L98.14 539.01 L98.15 541.41 L98.17 543.81 L98.18 546.2 L98.19 548.6 L98.2 550.99 L98.21 553.38 L98.22 555.78 L98.23 558.18 L98.24 560.57 L98.25 562.97 L98.26 565.36 L98.27 567.75 L98.28 570.15 L98.29 572.55 L98.3 574.94 L98.31 577.34 L98.32 579.73 L98.35 582.12 L98.37 584.52 L98.42 586.92 L98.48 589.31 L98.59 591.71 L98.75 594.1 L99.4 592 L99.9 584.6 L100.8 594.8 L103.3 594.1 L104.6 592 L105.5 594.8 L109.7 596.3 L113.5 595.8 L114.8 594.6 L115.55 594.4 L115.71 593.5 L115.82 592.61 L115.88 591.72 L115.93 590.82 L115.95 589.92 L115.98 589.03 L115.99 588.13 L116 587.24 L116.01 586.35 L116.02 585.45 L116.03 584.55 L116.04 583.66 L116.05 582.76 L116.06 581.87 L116.07 580.98 L116.08 580.08 L116.09 579.18 L116.1 578.29 L116.11 577.39 L116.12 576.5 L116.13 575.61 L116.15 574.71 L116.16 573.82 L116.17 572.92 L116.18 572.02 L116.2 571.13 L116.21 570.24 L116.23 569.34 L116.24 568.45 L116.26 567.55 L116.27 566.65 L116.29 565.76 L116.31 564.87 L116.34 563.97 L116.36 563.08 L116.39 562.18 L116.42 561.28 L116.46 560.39 L116.52 559.5 L116.7 558.6 L116.7 558.6 L116.9 559.52 L116.96 560.44 L117 561.36 L117.03 562.28 L117.06 563.2 L117.09 564.12 L117.11 565.04 L117.13 565.96 L117.15 566.88 L117.17 567.8 L117.19 568.72 L117.21 569.64 L117.22 570.56 L117.24 571.48 L117.25 572.4 L117.26 573.32 L117.28 574.24 L117.29 575.16 L117.3 576.08 L117.31 577 L117.33 577.92 L117.34 578.84 L117.35 579.76 L117.36 580.68 L117.37 581.6 L117.38 582.52 L117.39 583.44 L117.4 584.36 L117.41 585.28 L117.42 586.2 L117.43 587.12 L117.44 588.04 L117.46 588.96 L117.47 589.88 L117.49 590.8 L117.52 591.72 L117.57 592.64 L117.63 593.56 L117.73 594.48 L117.9 595.4 L119.5 596.3 L121.1 596.8 L130 597.2 L150 597 L160 596.9 L170 597.4" fill="none" stroke="#000" stroke-width="1.2" stroke-linejoin="round" stroke-linecap="round"/>
<path d="M70.3 596 L90 587.8" fill="none" stroke="#000" stroke-width="1.45" stroke-linejoin="round" stroke-linecap="round" stroke-dasharray="2.8 2.2"/>
<path d="M89.2 578.5 L89.2 586.5" fill="none" stroke="#000" stroke-width="1.5" stroke-linejoin="round" stroke-linecap="round"/>
<path d="M90.3 582 L90.3 588.5" fill="none" stroke="#000" stroke-width="1.2" stroke-linejoin="round" stroke-linecap="round"/>
<path d="M99.9 585 L99.9 594" fill="none" stroke="#000" stroke-width="1.5" stroke-linejoin="round" stroke-linecap="round"/>
<path d="M96.3 591 L96.3 598.4" fill="none" stroke="#000" stroke-width="1.2" stroke-linejoin="round" stroke-linecap="round"/>
<clipPath id="k12"><path clip-rule="evenodd" d="M-6 -14.5 h20.06 v20.3 h-20.06 z M-1 -2.88 H3.43 V4.35 H-1 z M5.15 -2.88 H8.41 V4.35 H5.15 z"/></clipPath>
<text transform="translate(87.5 356.5) rotate(-90) scale(1.150 1.000)" font-family='"Liberation Sans", Arial, sans-serif' font-size="14.5" text-anchor="start" fill="#111" font-weight="normal" stroke="#111" stroke-width="0.55" clip-path="url(#k12)">1</text>
<text transform="translate(99.4 483.7) rotate(-90) scale(1.060 1.000)" font-family='"Liberation Sans", Arial, sans-serif' font-size="14.5" text-anchor="start" fill="#111" font-weight="normal" stroke="#111" stroke-width="0.55">2</text>
<text transform="translate(305.2 365)" font-family='"Liberation Serif", "Times New Roman", serif' font-size="30.5" text-anchor="middle" fill="#000" font-weight="normal" stroke="#000" stroke-width="0.2">C</text>
</g>
<g id="panelD">
<g>
<line x1="419.6" y1="319.4" x2="419.6" y2="611.3" stroke="#969696" stroke-width="1.12"/>
<line x1="414.1" y1="605.5" x2="669.08" y2="605.5" stroke="#969696" stroke-width="1.12"/>
<line x1="417.2" y1="596.85" x2="419.6" y2="596.85" stroke="#969696" stroke-width="0.95"/>
<line x1="417.2" y1="588.19" x2="419.6" y2="588.19" stroke="#969696" stroke-width="0.95"/>
<line x1="417.2" y1="579.54" x2="419.6" y2="579.54" stroke="#969696" stroke-width="0.95"/>
<line x1="417.2" y1="570.89" x2="419.6" y2="570.89" stroke="#969696" stroke-width="0.95"/>
<line x1="414.1" y1="562.24" x2="419.6" y2="562.24" stroke="#969696" stroke-width="1.12"/>
<line x1="417.2" y1="553.58" x2="419.6" y2="553.58" stroke="#969696" stroke-width="0.95"/>
<line x1="417.2" y1="544.93" x2="419.6" y2="544.93" stroke="#969696" stroke-width="0.95"/>
<line x1="417.2" y1="536.28" x2="419.6" y2="536.28" stroke="#969696" stroke-width="0.95"/>
<line x1="417.2" y1="527.62" x2="419.6" y2="527.62" stroke="#969696" stroke-width="0.95"/>
<line x1="414.1" y1="518.97" x2="419.6" y2="518.97" stroke="#969696" stroke-width="1.12"/>
<line x1="417.2" y1="510.32" x2="419.6" y2="510.32" stroke="#969696" stroke-width="0.95"/>
<line x1="417.2" y1="501.66" x2="419.6" y2="501.66" stroke="#969696" stroke-width="0.95"/>
<line x1="417.2" y1="493.01" x2="419.6" y2="493.01" stroke="#969696" stroke-width="0.95"/>
<line x1="417.2" y1="484.36" x2="419.6" y2="484.36" stroke="#969696" stroke-width="0.95"/>
<line x1="414.1" y1="475.71" x2="419.6" y2="475.71" stroke="#969696" stroke-width="1.12"/>
<line x1="417.2" y1="467.05" x2="419.6" y2="467.05" stroke="#969696" stroke-width="0.95"/>
<line x1="417.2" y1="458.4" x2="419.6" y2="458.4" stroke="#969696" stroke-width="0.95"/>
<line x1="417.2" y1="449.75" x2="419.6" y2="449.75" stroke="#969696" stroke-width="0.95"/>
<line x1="417.2" y1="441.09" x2="419.6" y2="441.09" stroke="#969696" stroke-width="0.95"/>
<line x1="414.1" y1="432.44" x2="419.6" y2="432.44" stroke="#969696" stroke-width="1.12"/>
<line x1="417.2" y1="423.79" x2="419.6" y2="423.79" stroke="#969696" stroke-width="0.95"/>
<line x1="417.2" y1="415.13" x2="419.6" y2="415.13" stroke="#969696" stroke-width="0.95"/>
<line x1="417.2" y1="406.48" x2="419.6" y2="406.48" stroke="#969696" stroke-width="0.95"/>
<line x1="417.2" y1="397.83" x2="419.6" y2="397.83" stroke="#969696" stroke-width="0.95"/>
<line x1="414.1" y1="389.18" x2="419.6" y2="389.18" stroke="#969696" stroke-width="1.12"/>
<line x1="417.2" y1="380.52" x2="419.6" y2="380.52" stroke="#969696" stroke-width="0.95"/>
<line x1="417.2" y1="371.87" x2="419.6" y2="371.87" stroke="#969696" stroke-width="0.95"/>
<line x1="417.2" y1="363.22" x2="419.6" y2="363.22" stroke="#969696" stroke-width="0.95"/>
<line x1="417.2" y1="354.56" x2="419.6" y2="354.56" stroke="#969696" stroke-width="0.95"/>
<line x1="414.1" y1="345.91" x2="419.6" y2="345.91" stroke="#969696" stroke-width="1.12"/>
<line x1="417.2" y1="337.26" x2="419.6" y2="337.26" stroke="#969696" stroke-width="0.95"/>
<line x1="417.2" y1="328.6" x2="419.6" y2="328.6" stroke="#969696" stroke-width="0.95"/>
<line x1="417.2" y1="319.95" x2="419.6" y2="319.95" stroke="#969696" stroke-width="0.95"/>
<line x1="442.28" y1="605.5" x2="442.28" y2="608.3" stroke="#969696" stroke-width="0.95"/>
<line x1="464.96" y1="605.5" x2="464.96" y2="608.3" stroke="#969696" stroke-width="0.95"/>
<line x1="487.64" y1="605.5" x2="487.64" y2="608.3" stroke="#969696" stroke-width="0.95"/>
<line x1="510.32" y1="605.5" x2="510.32" y2="608.3" stroke="#969696" stroke-width="0.95"/>
<line x1="533" y1="605.5" x2="533" y2="611.3" stroke="#969696" stroke-width="1.12"/>
<line x1="555.68" y1="605.5" x2="555.68" y2="608.3" stroke="#969696" stroke-width="0.95"/>
<line x1="578.36" y1="605.5" x2="578.36" y2="608.3" stroke="#969696" stroke-width="0.95"/>
<line x1="601.04" y1="605.5" x2="601.04" y2="608.3" stroke="#969696" stroke-width="0.95"/>
<line x1="623.72" y1="605.5" x2="623.72" y2="608.3" stroke="#969696" stroke-width="0.95"/>
<line x1="646.4" y1="605.5" x2="646.4" y2="611.3" stroke="#969696" stroke-width="1.12"/>
<line x1="669.08" y1="605.5" x2="669.08" y2="608.3" stroke="#969696" stroke-width="0.95"/>
</g>
<g>
<text transform="translate(398 609.2) scale(0.875 1.000)" font-family='"Liberation Sans", Arial, sans-serif' font-size="14" text-anchor="middle" fill="#111" font-weight="normal" stroke="#111" stroke-width="0.45">0</text>
<text transform="translate(398 565.94) scale(0.875 1.000)" font-family='"Liberation Sans", Arial, sans-serif' font-size="14" text-anchor="middle" fill="#111" font-weight="normal" stroke="#111" stroke-width="0.45">50</text>
<clipPath id="k13"><path clip-rule="evenodd" d="M-17.4 -14 h34.8 v19.6 h-34.8 z M-12.4 -2.85 H-8.1 V4.2 H-12.4 z M-6.42 -2.85 H-3.87 V4.2 H-6.42 z"/></clipPath>
<text transform="translate(398 522.67) scale(0.875 1.000)" font-family='"Liberation Sans", Arial, sans-serif' font-size="14" text-anchor="middle" fill="#111" font-weight="normal" stroke="#111" stroke-width="0.45" clip-path="url(#k13)" dx="0 -0.56">100</text>
<clipPath id="k14"><path clip-rule="evenodd" d="M-17.4 -14 h34.8 v19.6 h-34.8 z M-12.4 -2.85 H-8.1 V4.2 H-12.4 z M-6.42 -2.85 H-3.87 V4.2 H-6.42 z"/></clipPath>
<text transform="translate(398 479.41) scale(0.875 1.000)" font-family='"Liberation Sans", Arial, sans-serif' font-size="14" text-anchor="middle" fill="#111" font-weight="normal" stroke="#111" stroke-width="0.45" clip-path="url(#k14)" dx="0 -0.56">150</text>
<text transform="translate(398 436.14) scale(0.875 1.000)" font-family='"Liberation Sans", Arial, sans-serif' font-size="14" text-anchor="middle" fill="#111" font-weight="normal" stroke="#111" stroke-width="0.45">200</text>
<text transform="translate(398 392.88) scale(0.875 1.000)" font-family='"Liberation Sans", Arial, sans-serif' font-size="14" text-anchor="middle" fill="#111" font-weight="normal" stroke="#111" stroke-width="0.45">250</text>
<text transform="translate(398 349.61) scale(0.875 1.000)" font-family='"Liberation Sans", Arial, sans-serif' font-size="14" text-anchor="middle" fill="#111" font-weight="normal" stroke="#111" stroke-width="0.45">300</text>
</g>
<g>
<text transform="translate(419.6 628.2) scale(0.900 1.000)" font-family='"Liberation Sans", Arial, sans-serif' font-size="13.8" text-anchor="middle" fill="#111" font-weight="normal" stroke="#111" stroke-width="0.45">0</text>
<clipPath id="k15"><path clip-rule="evenodd" d="M-13.4 -13.8 h26.8 v19.32 h-26.8 z M-8.4 -2.83 H-4.15 V4.14 H-8.4 z M-2.49 -2.83 H0.02 V4.14 H-2.49 z"/></clipPath>
<text transform="translate(533 628.2) scale(0.900 1.000)" font-family='"Liberation Sans", Arial, sans-serif' font-size="13.8" text-anchor="middle" fill="#111" font-weight="normal" stroke="#111" stroke-width="0.45" clip-path="url(#k15)" dx="0 -0.55">10</text>
<text transform="translate(646.4 628.2) scale(0.900 1.000)" font-family='"Liberation Sans", Arial, sans-serif' font-size="13.8" text-anchor="middle" fill="#111" font-weight="normal" stroke="#111" stroke-width="0.45">20</text>
</g>
<text transform="translate(378 454.2) rotate(-90) scale(1.000 1.060)" font-family='"Liberation Sans", Arial, sans-serif' font-size="14.4" text-anchor="middle" fill="#111" font-weight="normal" stroke="#111" stroke-width="0.45">mAU</text>
<path d="M420.4 605.1 L435 605.1" fill="none" stroke="#555" stroke-width="0.6" stroke-linejoin="round" stroke-linecap="round"/>
<path d="M434.6 605.2 L435.5 604.8 L437.2 602.9 L442.3 599.7 L443.2 593.3 L444.8 587.6 L446.7 583.8 L448 582.3 L448.3 582 L448.36 578.11 L448.4 574.22 L448.43 570.34 L448.45 566.45 L448.48 562.56 L448.5 558.67 L448.53 554.78 L448.55 550.89 L448.58 547 L448.6 543.12 L448.63 539.23 L448.65 535.34 L448.68 531.45 L448.71 527.56 L448.74 523.67 L448.77 519.79 L448.81 515.9 L448.84 512.01 L448.87 508.12 L448.9 504.23 L448.93 500.35 L448.96 496.46 L448.99 492.57 L449.02 488.68 L449.06 484.79 L449.09 480.9 L449.12 477.01 L449.15 473.13 L449.18 469.24 L449.21 465.35 L449.24 461.46 L449.26 457.57 L449.27 453.68 L449.28 449.8 L449.29 445.91 L449.3 442.02 L449.32 438.13 L449.33 434.24 L449.34 430.36 L449.35 426.47 L449.36 422.58 L449.37 418.69 L449.38 414.8 L449.39 410.91 L449.41 407.02 L449.42 403.14 L449.43 399.25 L449.44 395.36 L449.44 391.47 L449.45 387.58 L449.45 383.69 L449.46 379.81 L449.46 375.92 L449.46 372.03 L449.47 368.14 L449.47 364.25 L449.48 360.37 L449.48 356.48 L449.49 352.59 L449.5 348.7 L449.5 348.7 L449.58 352.62 L449.66 356.54 L449.74 360.45 L449.81 364.37 L449.89 368.29 L449.96 372.21 L450.03 376.13 L450.11 380.05 L450.18 383.96 L450.25 387.88 L450.33 391.8 L450.4 395.72 L450.45 399.64 L450.51 403.56 L450.56 407.47 L450.61 411.39 L450.67 415.31 L450.72 419.23 L450.77 423.15 L450.83 427.07 L450.88 430.99 L450.94 434.9 L450.99 438.82 L451.04 442.74 L451.1 446.66 L451.15 450.58 L451.2 454.5 L451.26 458.41 L451.31 462.33 L451.35 466.25 L451.4 470.17 L451.44 474.09 L451.49 478 L451.53 481.92 L451.57 485.84 L451.62 489.76 L451.66 493.68 L451.71 497.6 L451.75 501.51 L451.8 505.43 L451.84 509.35 L451.88 513.27 L451.93 517.19 L451.97 521.11 L452.02 525.02 L452.06 528.94 L452.11 532.86 L452.15 536.78 L452.17 540.7 L452.2 544.62 L452.22 548.53 L452.25 552.45 L452.27 556.37 L452.3 560.29 L452.32 564.21 L452.35 568.13 L452.37 572.04 L452.4 575.96 L452.53 579.88 L452.7 583.8 L453.3 593.3 L454.2 596 L455.2 590 L455.6 581.3 L456 592 L456.6 597 L457.5 599.7 L460 601.6 L460.45 601.8 L460.61 599.38 L460.71 596.96 L460.78 594.54 L460.82 592.12 L460.85 589.7 L460.87 587.28 L460.88 584.86 L460.89 582.44 L460.9 580.02 L460.91 577.6 L460.92 575.18 L460.93 572.76 L460.93 570.34 L460.94 567.92 L460.95 565.5 L460.96 563.08 L460.96 560.66 L460.97 558.24 L460.98 555.82 L460.99 553.4 L461 550.98 L461.01 548.56 L461.02 546.14 L461.03 543.72 L461.04 541.3 L461.05 538.88 L461.06 536.46 L461.07 534.04 L461.08 531.62 L461.1 529.2 L461.11 526.78 L461.12 524.36 L461.14 521.94 L461.16 519.52 L461.18 517.1 L461.2 514.68 L461.23 512.26 L461.26 509.84 L461.3 507.42 L461.45 505 L461.45 505 L461.65 507.43 L461.71 509.86 L461.75 512.29 L461.78 514.72 L461.81 517.15 L461.84 519.58 L461.86 522.01 L461.88 524.44 L461.9 526.87 L461.92 529.3 L461.94 531.73 L461.96 534.16 L461.97 536.59 L461.99 539.02 L462 541.45 L462.01 543.88 L462.03 546.31 L462.04 548.74 L462.05 551.17 L462.06 553.6 L462.08 556.03 L462.09 558.46 L462.1 560.89 L462.11 563.32 L462.12 565.75 L462.13 568.18 L462.14 570.61 L462.15 573.04 L462.16 575.47 L462.17 577.9 L462.18 580.33 L462.19 582.76 L462.21 585.19 L462.22 587.62 L462.24 590.05 L462.27 592.48 L462.32 594.91 L462.38 597.34 L462.48 599.77 L462.65 602.2 L463.8 599 L464.3 593.3 L465.2 602.2 L467.1 601.6 L468.3 598.7 L469.3 602.2 L473.4 603.9 L477.2 603.2 L478.6 602.8 L479.35 602.6 L479.51 601.51 L479.62 600.42 L479.68 599.33 L479.73 598.24 L479.75 597.15 L479.78 596.06 L479.79 594.97 L479.8 593.88 L479.81 592.79 L479.82 591.7 L479.83 590.61 L479.84 589.52 L479.85 588.43 L479.86 587.34 L479.87 586.25 L479.88 585.16 L479.89 584.07 L479.9 582.98 L479.91 581.89 L479.92 580.8 L479.93 579.71 L479.95 578.62 L479.96 577.53 L479.97 576.44 L479.98 575.35 L480 574.26 L480.01 573.17 L480.03 572.08 L480.04 570.99 L480.06 569.9 L480.07 568.81 L480.09 567.72 L480.11 566.63 L480.14 565.54 L480.16 564.45 L480.19 563.36 L480.22 562.27 L480.26 561.18 L480.32 560.09 L480.5 559 L480.5 559 L480.7 560.11 L480.76 561.23 L480.8 562.34 L480.83 563.45 L480.86 564.56 L480.89 565.67 L480.91 566.79 L480.93 567.9 L480.95 569.01 L480.97 570.12 L480.99 571.24 L481.01 572.35 L481.02 573.46 L481.04 574.58 L481.05 575.69 L481.06 576.8 L481.08 577.91 L481.09 579.02 L481.1 580.14 L481.11 581.25 L481.13 582.36 L481.14 583.48 L481.15 584.59 L481.16 585.7 L481.17 586.81 L481.18 587.92 L481.19 589.04 L481.2 590.15 L481.21 591.26 L481.22 592.38 L481.23 593.49 L481.24 594.6 L481.26 595.71 L481.27 596.83 L481.29 597.94 L481.32 599.05 L481.37 600.16 L481.43 601.27 L481.53 602.39 L481.7 603.5 L483.2 604.5 L484.8 604.8 L500 605 L520 604.8 L533 605.2" fill="none" stroke="#000" stroke-width="1.2" stroke-linejoin="round" stroke-linecap="round"/>
<path d="M446.7 583.8 L448.3 582 L449.6 581.6 L451.2 583.2 L452.5 586.3 L453.3 593.3" fill="none" stroke="#000" stroke-width="1.2" stroke-linejoin="round" stroke-linecap="round"/>
<path d="M436 604.8 L454.4 595.2" fill="none" stroke="#000" stroke-width="1.45" stroke-linejoin="round" stroke-linecap="round" stroke-dasharray="2.8 2.2"/>
<path d="M453.3 592 L453.3 606" fill="none" stroke="#000" stroke-width="1.3" stroke-linejoin="round" stroke-linecap="round" stroke-dasharray="1.8 1.3"/>
<path d="M454.7 590 L454.7 600" fill="none" stroke="#000" stroke-width="1.4" stroke-linejoin="round" stroke-linecap="round"/>
<path d="M464.3 594 L464.3 602" fill="none" stroke="#000" stroke-width="1.4" stroke-linejoin="round" stroke-linecap="round"/>
<path d="M460.7 600.5 L460.7 606.2" fill="none" stroke="#000" stroke-width="1.2" stroke-linejoin="round" stroke-linecap="round"/>
<clipPath id="k16"><path clip-rule="evenodd" d="M-6 -14.5 h20.06 v20.3 h-20.06 z M-1 -2.88 H3.43 V4.35 H-1 z M5.15 -2.88 H8.41 V4.35 H5.15 z"/></clipPath>
<text transform="translate(451.8 331.4) rotate(-90)" font-family='"Liberation Sans", Arial, sans-serif' font-size="14.5" text-anchor="start" fill="#111" font-weight="normal" stroke="#111" stroke-width="0.55" clip-path="url(#k16)">1</text>
<text transform="translate(463.6 481) rotate(-90)" font-family='"Liberation Sans", Arial, sans-serif' font-size="14" text-anchor="start" fill="#111" font-weight="normal" stroke="#111" stroke-width="0.55">3</text>
<text transform="translate(631.3 365)" font-family='"Liberation Serif", "Times New Roman", serif' font-size="30" text-anchor="middle" fill="#000" font-weight="normal" stroke="#000" stroke-width="0.2">D</text>
</g>
</g>
</svg>
</body>
</html>
